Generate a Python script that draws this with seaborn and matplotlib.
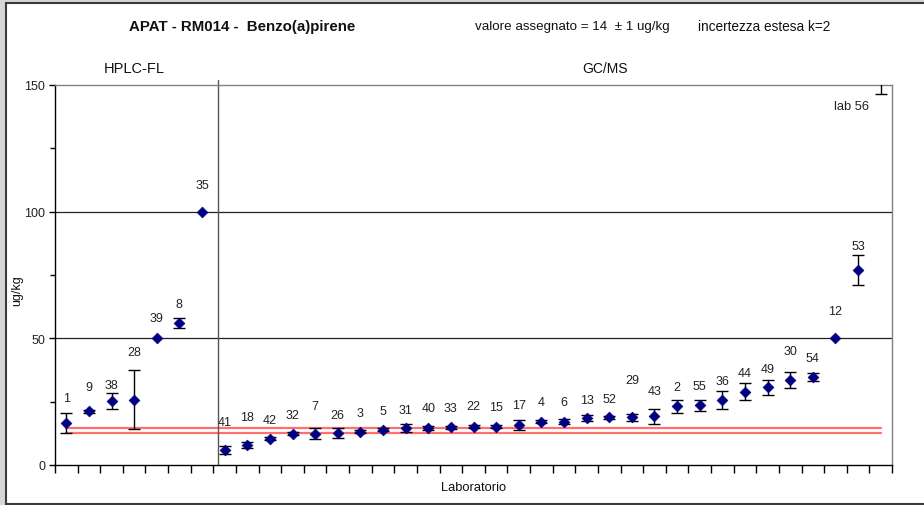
import matplotlib
matplotlib.use("Agg")
import matplotlib.pyplot as plt
import seaborn as sns
import numpy as np
import pandas as pd
from matplotlib.patches import Rectangle
from matplotlib.ticker import MultipleLocator, NullFormatter

# ---- data ----
labs = ['1', '9', '38', '28', '39', '8', '35',
        '41', '18', '42', '32', '7', '26', '3', '5', '31', '40', '33', '22', '15',
        '17', '4', '6', '13', '52', '29', '43', '2', '55', '36', '44', '49', '30',
        '54', '12', '53', '56']
values = [16.5, 21.2, 25.3, 25.8, 50.0, 56.0, 100.0,
          6.0, 7.9, 10.3, 12.4, 12.4, 12.8, 13.2, 14.0, 14.5, 14.7, 14.9, 15.1, 15.1,
          15.9, 17.1, 17.1, 18.4, 18.8, 18.8, 19.2, 23.2, 23.5, 25.8, 29.0, 30.6, 33.5,
          34.7, 50.0, 77.0, 160.0]
uncert = [4.0, 0.5, 3.3, 11.7, 0.0, 2.0, 0.0,
          1.5, 1.0, 0.6, 0.5, 2.3, 2.0, 0.5, 0.7, 1.5, 0.8, 0.5, 0.6, 0.6,
          2.0, 0.6, 1.0, 1.2, 0.5, 1.5, 3.1, 2.5, 2.3, 3.5, 3.5, 2.9, 3.1,
          1.7, 0.0, 5.8, 13.4]
label_y = [26.4, 30.7, 31.5, 44.7, 58.1, 63.5, 110.7,
           16.9, 18.9, 17.7, 19.9, 23.2, 19.9, 20.4, 21.5, 21.9, 22.4, 22.4, 23.2, 22.7,
           23.6, 24.8, 24.8, 25.8, 26.2, 33.7, 29.4, 30.7, 31.0, 33.2, 36.4, 37.7, 45.0,
           42.2, 60.6, 86.4, 141.6]
n_hplc = 7
assigned_low = 12.7
assigned_high = 14.7
y_ticks_major = [0, 50, 100, 150]

df = pd.DataFrame({"pos": np.arange(len(labs)), "lab": labs,
                   "value": values, "unc": uncert, "label_y": label_y})

# ---- style ----
sns.set_style("white")
plt.rcParams['font.family'] = ['Liberation Sans', 'DejaVu Sans']

W, H = 924, 506
fig = plt.figure(figsize=(W / 100, H / 100), dpi=100)
fig.patch.set_facecolor('#d6d6d6')
fig.patches.append(Rectangle((6 / W, 1 / H), 1.0, (502 - 1) / H, transform=fig.transFigure,
                             facecolor='white', edgecolor='#3a3a3a', linewidth=1.5, zorder=-5))

ax = fig.add_axes([55 / W, (H - 466) / H, (892 - 55) / W, (466 - 86) / H])
ax.set_zorder(2)
ax.set_facecolor('white')

# grid lines at 50, 100
for yv in (50, 100):
    ax.axhline(yv, color='#222222', lw=0.9, zorder=1)

# assigned value band
ax.plot([0, len(labs) - 1], [assigned_high, assigned_high], color='#ff6f6f', lw=1.6, zorder=2)
ax.plot([0, len(labs) - 1], [assigned_low, assigned_low], color='#ff6f6f', lw=1.6, zorder=2)

# separator between techniques
ax.plot([n_hplc - 0.28, n_hplc - 0.28], [0, 152], color='#555555', lw=1.0, zorder=2, clip_on=False)

# error bars
eb = df[df["unc"] > 0]
ax.errorbar(eb["pos"], eb["value"], yerr=eb["unc"], fmt='none', ecolor='black',
            elinewidth=1.0, capsize=4, capthick=1.0, zorder=3)

# points
sns.scatterplot(data=df, x="pos", y="value", marker='D', s=30, color='#000080',
                edgecolor='#000080', linewidth=0.5, ax=ax, zorder=4, legend=False)

# labels
for i, r in df.iterrows():
    if i == len(df) - 1:
        ax.text(34.72, r["label_y"], "lab " + r["lab"], ha='center', va='center',
                fontsize=9.3, color='#222222')
    else:
        ax.text(r["pos"], r["label_y"], r["lab"], ha='center', va='center',
                fontsize=9, color='#222222')

ax.set_xlim(-0.5, len(labs) - 0.5)
ax.set_ylim(0, 150)
ax.set_xticks(np.arange(-0.5, len(labs), 1.0))
ax.set_xticklabels([])
ax.tick_params(axis='x', which='major', direction='out', length=6, width=1, color='black', bottom=True)
ax.yaxis.set_major_locator(MultipleLocator(50))
ax.yaxis.set_minor_locator(MultipleLocator(25))
ax.yaxis.set_minor_formatter(NullFormatter())
ax.set_yticks(y_ticks_major)
ax.set_yticklabels([str(v) for v in y_ticks_major], fontsize=9, color='#222222')
ax.tick_params(axis='y', which='major', direction='out', length=4, width=1, color='black', left=True, pad=3)
ax.tick_params(axis='y', which='minor', direction='out', length=3.5, width=1, color='black', left=True)
ax.set_xlabel("")
ax.set_ylabel("")

for s in ('left', 'bottom'):
    ax.spines[s].set_color('black')
    ax.spines[s].set_linewidth(1.0)
for s in ('top', 'right'):
    ax.spines[s].set_color('#808080')
    ax.spines[s].set_linewidth(1.0)
    ax.spines[s].set_visible(True)

# texts
fig.text(242 / W, 1 - 27 / H, "APAT - RM014 -  Benzo(a)pirene", ha='center', va='center',
         fontsize=10.8, fontweight='bold', color='#111111')
fig.text(572 / W, 1 - 27 / H, "valore assegnato = 14  \u00b1 1 ug/kg", ha='center', va='center',
         fontsize=9.6, color='#111111')
fig.text(764 / W, 1 - 27 / H, "incertezza estesa k=2", ha='center', va='center',
         fontsize=9.8, color='#111111')
fig.text(134 / W, 1 - 69 / H, "HPLC-FL", ha='center', va='center', fontsize=10.5, color='#111111')
fig.text(605 / W, 1 - 69 / H, "GC/MS", ha='center', va='center', fontsize=10, color='#111111')
fig.text(474 / W, 1 - 488 / H, "Laboratorio", ha='center', va='center', fontsize=9.3, color='#111111')
fig.text(17 / W, 1 - 291 / H, "ug/kg", ha='center', va='center', rotation=90, fontsize=9, color='#111111')

fig.savefig("out.png", dpi=100, facecolor=fig.get_facecolor())
